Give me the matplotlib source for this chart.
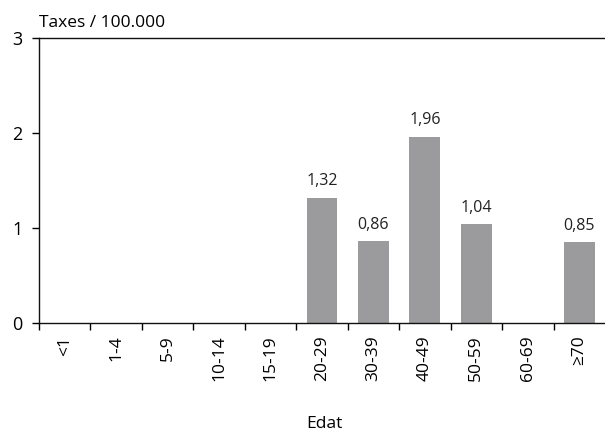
import matplotlib
matplotlib.use("Agg")
import matplotlib.pyplot as plt
import numpy as np

plt.rcParams['font.family'] = ['Open Sans', 'DejaVu Sans']

groups = ['<1', '1-4', '5-9', '10-14', '15-19', '20-29', '30-39',
          '40-49', '50-59', '60-69', '≥70']
rates = [0, 0, 0, 0, 0, 1.32, 0.86, 1.96, 1.04, 0, 0.85]
y_ticks = [0, 1, 2, 3]

fig = plt.figure(figsize=(6.05, 4.34), dpi=100)
ax = fig.add_axes([39/605, 111/434, 1 - 39/605, 285/434])

x = np.arange(len(groups))
ax.bar(x, rates, width=0.6, color='#9b9b9d')

for xi, v in zip(x, rates):
    if v > 0:
        ax.annotate(f'{v:.2f}'.replace('.', ','), (xi, v),
                    xytext=(0, 6), textcoords='offset points',
                    ha='center', va='bottom', fontsize=11.5, color='#222222')

ax.set_xlim(-0.5, len(groups) - 0.5)
ax.set_ylim(0, 3)
ax.set_yticks(y_ticks)
ax.set_yticklabels([str(t) for t in y_ticks], fontsize=13)

ax.set_xticks(x)
ax.set_xticklabels(groups, rotation=90, fontsize=12.5)
ax.set_xticks(np.arange(len(groups)) - 0.5, minor=True)
ax.tick_params(axis='x', which='major', length=0, pad=9)
ax.tick_params(axis='x', which='minor', length=5, width=1, direction='out')
ax.tick_params(axis='y', length=5, width=1, pad=7, direction='out')

ax.spines['right'].set_visible(False)
for s in ['top', 'left', 'bottom']:
    ax.spines[s].set_linewidth(1.0)
    ax.spines[s].set_color('#111111')

ax.text(0, 1.025, 'Taxes / 100.000', transform=ax.transAxes,
        ha='left', va='bottom', fontsize=12.5)
fig.text(324/605, 1 - 424/434, 'Edat', ha='center', va='center', fontsize=12.5)

fig.savefig('out.png', dpi=100)
